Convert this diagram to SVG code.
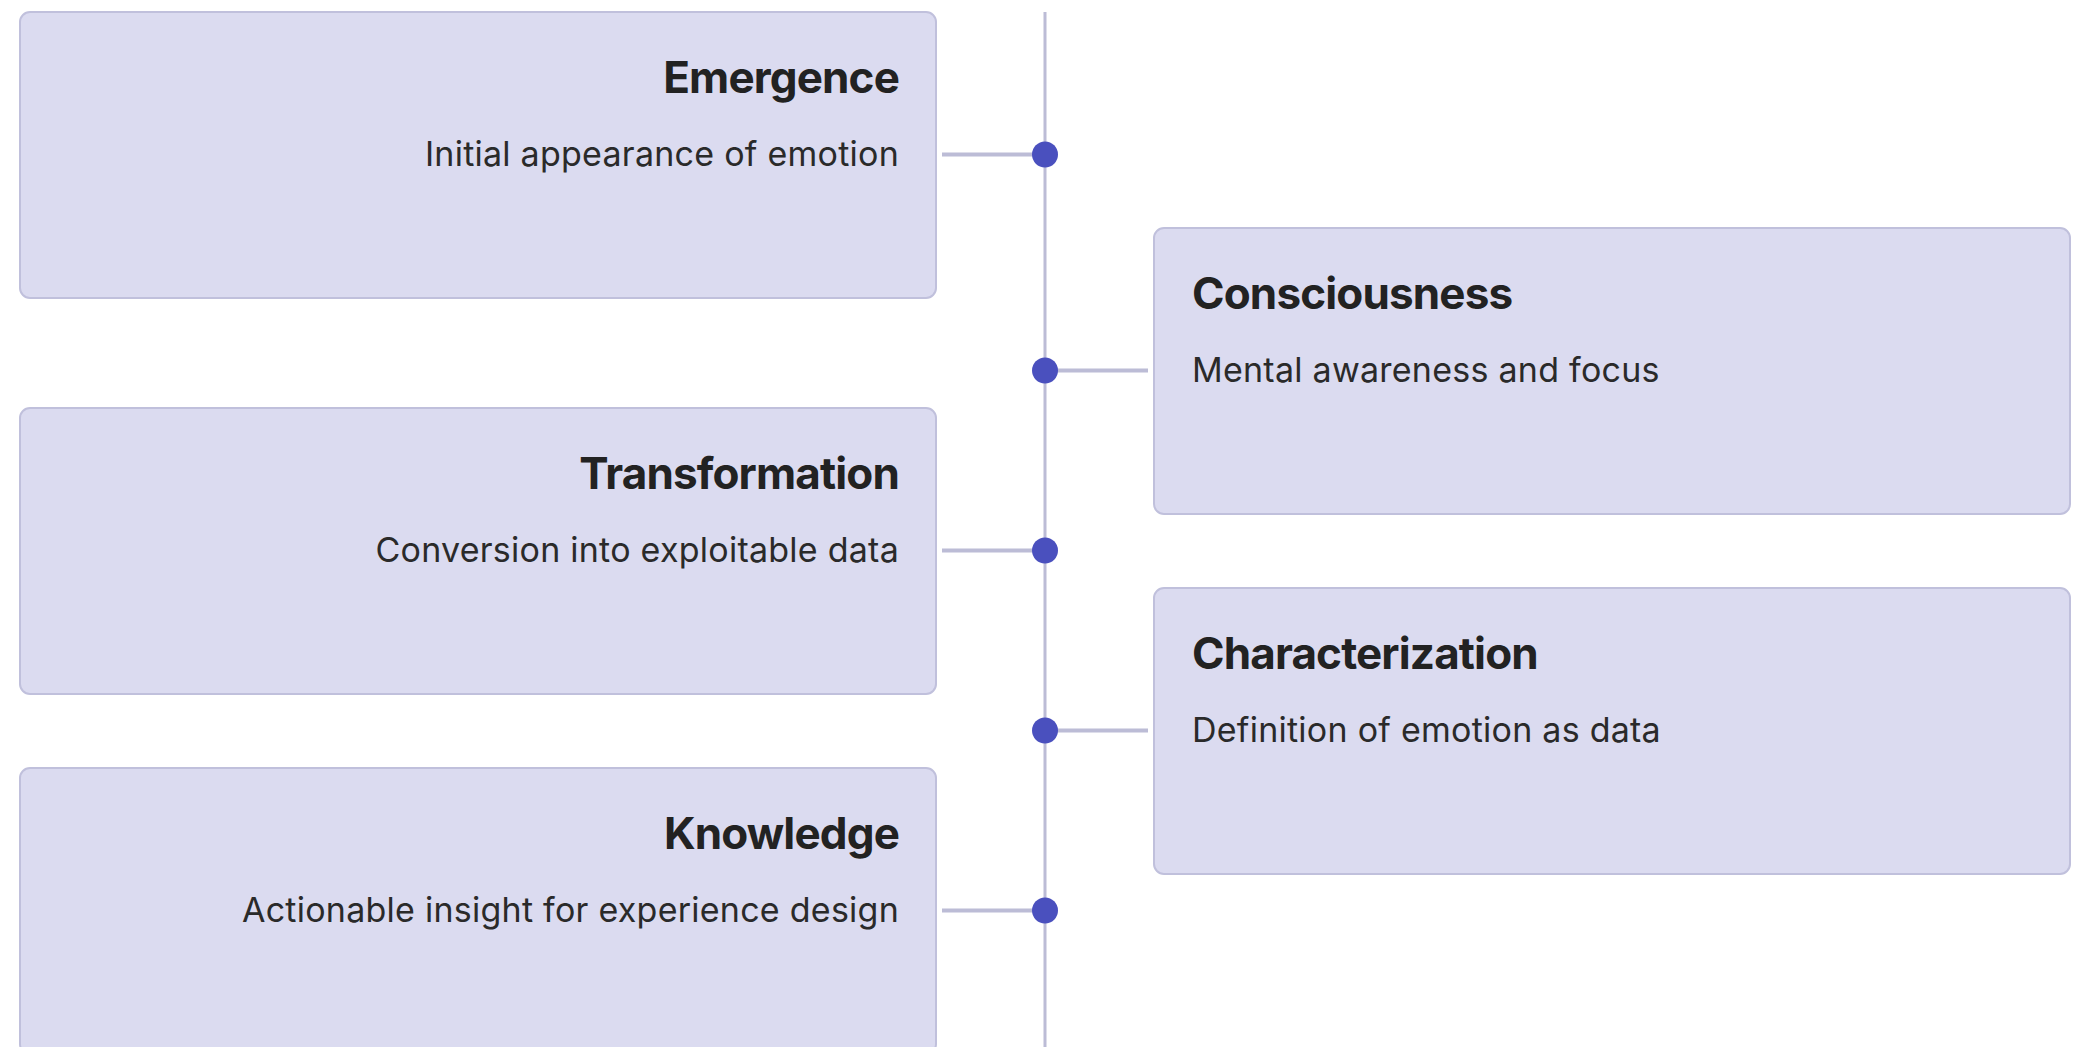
<svg xmlns="http://www.w3.org/2000/svg" width="2082" height="1047" viewBox="0 0 2082 1047">
<style>
.box{fill:#dbdbf0;stroke:#c0c0dc;stroke-width:2}
.title{font-family:Inter,"Noto Sans",sans-serif;font-weight:700;font-size:44px;fill:#222222;letter-spacing:-0.85px}
.desc{font-family:Inter,"Noto Sans",sans-serif;font-weight:400;font-size:34px;fill:#2a2a2a;letter-spacing:0.25px}
.l{text-anchor:end}
.conn{stroke:#bcbcd6;stroke-width:4}
.axis{stroke:#bcbcd6;stroke-width:3}
.dot{fill:#4a50be}
</style>
<rect width="2082" height="1047" fill="#ffffff"/>
<g id="connectors">
<line class="axis" x1="1045" y1="12" x2="1045" y2="1047"/>
<line class="conn" x1="942" y1="154.5" x2="1045" y2="154.5"/>
<line class="conn" x1="1045" y1="370.5" x2="1148" y2="370.5"/>
<line class="conn" x1="942" y1="550.5" x2="1045" y2="550.5"/>
<line class="conn" x1="1045" y1="730.5" x2="1148" y2="730.5"/>
<line class="conn" x1="942" y1="910.5" x2="1045" y2="910.5"/>
<circle class="dot" cx="1045" cy="154.5" r="13"/>
<circle class="dot" cx="1045" cy="370.5" r="13"/>
<circle class="dot" cx="1045" cy="550.5" r="13"/>
<circle class="dot" cx="1045" cy="730.5" r="13"/>
<circle class="dot" cx="1045" cy="910.5" r="13"/>
</g>
<g id="emergence">
<rect class="box" x="20" y="12" width="916" height="286" rx="10"/>
<text class="title l" x="899" y="93">Emergence</text>
<text class="desc l" x="899" y="166">Initial appearance of emotion</text>
</g>
<g id="consciousness">
<rect class="box" x="1154" y="228" width="916" height="286" rx="10"/>
<text class="title" x="1192" y="309">Consciousness</text>
<text class="desc" x="1192" y="382">Mental awareness and focus</text>
</g>
<g id="transformation">
<rect class="box" x="20" y="408" width="916" height="286" rx="10"/>
<text class="title l" x="899" y="489">Transformation</text>
<text class="desc l" x="899" y="562">Conversion into exploitable data</text>
</g>
<g id="characterization">
<rect class="box" x="1154" y="588" width="916" height="286" rx="10"/>
<text class="title" x="1192" y="669">Characterization</text>
<text class="desc" x="1192" y="742">Definition of emotion as data</text>
</g>
<g id="knowledge">
<rect class="box" x="20" y="768" width="916" height="286" rx="10"/>
<text class="title l" x="899" y="849">Knowledge</text>
<text class="desc l" x="899" y="922">Actionable insight for experience design</text>
</g>
</svg>
